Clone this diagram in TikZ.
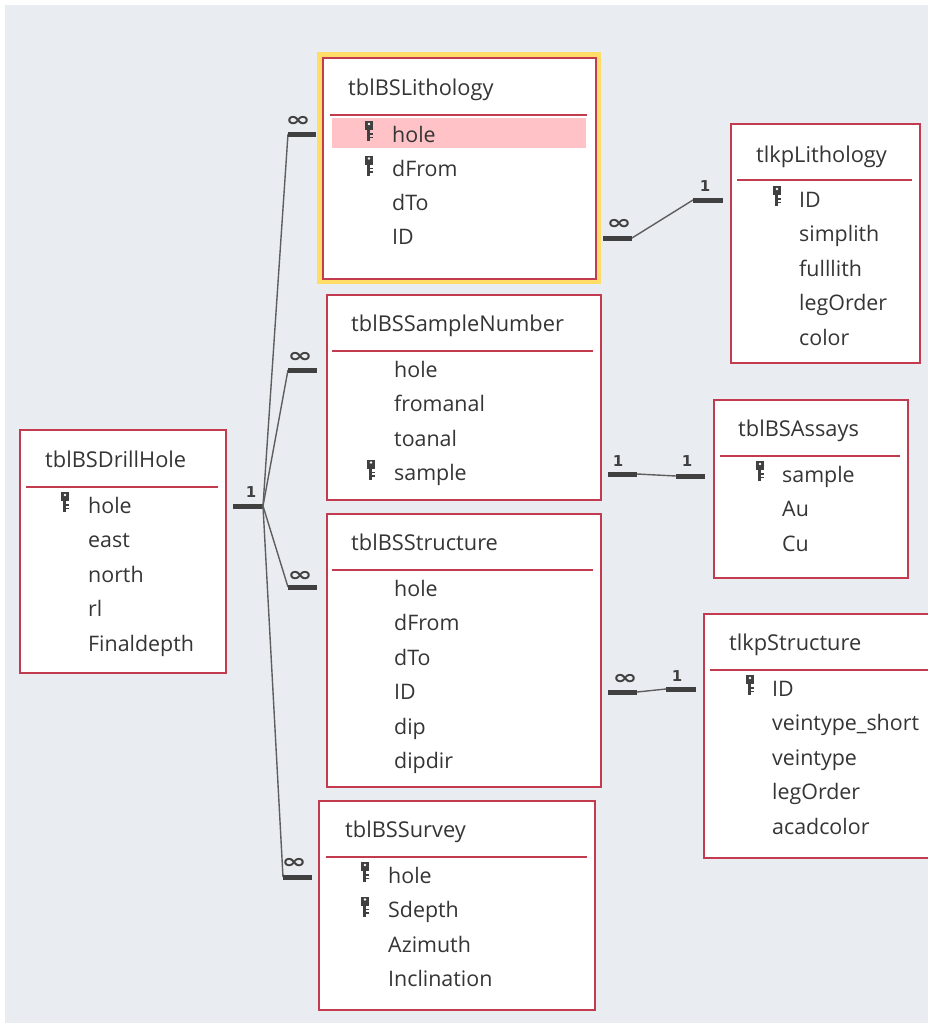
\documentclass[tikz,border=0pt]{standalone}
\usepackage{fontspec}
\newfontfamily\uifont{Open Sans}
\newfontfamily\symfont{DejaVu Sans}
\usetikzlibrary{calc}
\definecolor{bg}{HTML}{E9EDF1}
\definecolor{tred}{HTML}{C23B4E}
\definecolor{halo}{HTML}{FFDD66}
\definecolor{pinkrow}{HTML}{FFC2C6}
\definecolor{txt}{HTML}{353535}
\definecolor{barc}{HTML}{404040}
\definecolor{linkc}{HTML}{5E5E5E}
\tikzset{
  tbl/.style={draw=tred, line width=2pt, fill=white, rectangle, anchor=north west, inner sep=0pt},
  ttl/.style={anchor=base west, inner sep=0pt, font=\uifont\fontsize{21.8}{24}\selectfont, text=txt},
  fld/.style={anchor=base west, inner sep=0pt, font=\uifont\fontsize{21.4}{24}\selectfont, text=txt},
  divider/.style={draw=tred, line width=1.6pt},
  relbar/.style={draw=barc, line width=5pt},
  rellink/.style={draw=linkc, line width=1.4pt},
  onelbl/.style={font=\symfont\bfseries\fontsize{15}{16}\selectfont, text=barc, inner sep=0pt},
  manylbl/.style={font=\symfont\bfseries\fontsize{20}{22}\selectfont, text=barc, inner sep=0pt},
  keyicon/.pic={
    \fill[barc] (0,0) rectangle (8,9);
    \fill[white] (4,3) circle (1.3);
    \fill[barc] (2,9) rectangle (5,20);
    \fill[barc] (5,12) rectangle (7.5,13.5);
    \fill[barc] (5,15.5) rectangle (7.5,17);
  }
}
\begin{document}
\begin{tikzpicture}[x=1pt,y=-1pt]
\clip (0,0) rectangle (928,1023);
\fill[white] (0,0) rectangle (928,1023);
\fill[bg] (5,5) rectangle (928,1023);

% ---------- tblBSLithology (selected) ----------
\draw[halo, line width=5pt] (319.5,54.5) rectangle (598,281);
\node[tbl, minimum width=273pt, minimum height=221pt] (lith) at (322,57) {};
\fill[pinkrow] (332,118) rectangle (586,148);
\node[ttl] (lith-t) at (348,95) {tblBSLithology};
\draw[divider] (330,115) -- (587,115);
\foreach \f [count=\i] in {hole,dFrom,dTo,ID}
  \node[fld] (lith-\i) at (392,{142+34.3*(\i-1)}) {\f};
\pic at (365,121) {keyicon};
\pic at (365,155.5) {keyicon};

% ---------- tblBSSampleNumber ----------
\node[tbl, minimum width=274pt, minimum height=205pt] (samp) at (326,294) {};
\node[ttl] (samp-t) at (351,331) {tblBSSampleNumber};
\draw[divider] (332,351) -- (593,351);
\foreach \f [count=\i] in {hole,fromanal,toanal,sample}
  \node[fld] (samp-\i) at (394,{377+34.5*(\i-1)}) {\f};
\pic at (367,459.5) {keyicon};

% ---------- tblBSDrillHole ----------
\node[tbl, minimum width=206pt, minimum height=243pt] (drill) at (19,429) {};
\node[ttl] (drill-t) at (45,467) {tblBSDrillHole};
\draw[divider] (26,487) -- (218,487);
\foreach \f [count=\i] in {hole,east,north,rl,Finaldepth}
  \node[fld] (drill-\i) at (88,{513+34.5*(\i-1)}) {\f};
\pic at (61,492) {keyicon};

% ---------- tblBSStructure ----------
\node[tbl, minimum width=274pt, minimum height=273pt] (struct) at (326,513) {};
\node[ttl] (struct-t) at (351,550) {tblBSStructure};
\draw[divider] (332,570) -- (593,570);
\foreach \f [count=\i] in {hole,dFrom,dTo,ID,dip,dipdir}
  \node[fld] (struct-\i) at (394,{596+34.5*(\i-1)}) {\f};

% ---------- tblBSSurvey ----------
\node[tbl, minimum width=276pt, minimum height=209pt] (surv) at (318,800) {};
\node[ttl] (surv-t) at (345,837) {tblBSSurvey};
\draw[divider] (326,857) -- (587,857);
\foreach \f [count=\i] in {hole,Sdepth,Azimuth,Inclination}
  \node[fld] (surv-\i) at (388,{883+34.5*(\i-1)}) {\f};
\pic at (361,862) {keyicon};
\pic at (361,896.5) {keyicon};

% ---------- tlkpLithology ----------
\node[tbl, minimum width=189pt, minimum height=239pt] (tlith) at (730,123) {};
\node[ttl] (tlith-t) at (756,162) {tlkpLithology};
\draw[divider] (737,180) -- (912,180);
\foreach \f [count=\i] in {ID,simplith,fulllith,legOrder,color}
  \node[fld] (tlith-\i) at (799,{207+34.5*(\i-1)}) {\f};
\pic at (773,186) {keyicon};

% ---------- tblBSAssays ----------
\node[tbl, minimum width=194pt, minimum height=178pt] (assay) at (713,399) {};
\node[ttl] (assay-t) at (738,436) {tblBSAssays};
\draw[divider] (720,456) -- (900,456);
\foreach \f [count=\i] in {sample,Au,Cu}
  \node[fld] (assay-\i) at (782,{482+34.5*(\i-1)}) {\f};
\pic at (756,461) {keyicon};

% ---------- tlkpStructure ----------
\node[tbl, minimum width=240pt, minimum height=244pt] (tstruct) at (703,613) {};
\node[ttl] (tstruct-t) at (729,650) {tlkpStructure};
\draw[divider] (710,670) -- (940,670);
\foreach \f [count=\i] in {ID,veintype\_short,veintype,legOrder,acadcolor}
  \node[fld] (tstruct-\i) at (772,{696+34.5*(\i-1)}) {\f};
\pic at (746,675) {keyicon};

% ---------- relationships ----------
\coordinate (dhA) at (233,506);
\coordinate (dhB) at (263,506);
\draw[relbar] (dhA) -- (dhB);
\node[onelbl] (dh1) at (251,492) {1};

\coordinate (liA) at (288,134);
\coordinate (liB) at (316,134);
\coordinate (saA) at (288,370);
\coordinate (saB) at (317,370);
\coordinate (stA) at (288,587);
\coordinate (stB) at (317,587);
\coordinate (suA) at (283,877);
\coordinate (suB) at (312,877);
\draw[rellink] (dhB) -- (liA);
\draw[rellink] (dhB) -- (saA);
\draw[rellink] (dhB) -- (stA);
\draw[rellink] (dhB) -- (suA);
\draw[relbar] (liA) -- (liB);
\draw[relbar] (saA) -- (saB);
\draw[relbar] (stA) -- (stB);
\draw[relbar] (suA) -- (suB);
\node[manylbl] (li8) at (298,121) {\scalebox{1.5}[1]{∞}};
\node[manylbl] (sa8) at (300,357) {\scalebox{1.5}[1]{∞}};
\node[manylbl] (st8) at (300,576) {\scalebox{1.5}[1]{∞}};
\node[manylbl] (su8) at (294,863) {\scalebox{1.5}[1]{∞}};

% lith -> tlkpLithology
\coordinate (ltA) at (603,238);
\coordinate (ltB) at (632,238);
\coordinate (ltC) at (693,200);
\coordinate (ltD) at (723,200);
\draw[relbar] (ltA) -- (ltB);
\draw[rellink] (ltB) -- (ltC);
\draw[relbar] (ltC) -- (ltD);
\node[manylbl] (lt8) at (619,224) {\scalebox{1.5}[1]{∞}};
\node[onelbl] (lt1) at (705,186) {1};

% sample -> assays
\coordinate (saxA) at (608,474);
\coordinate (saxB) at (637,474);
\coordinate (saxC) at (676,476);
\coordinate (saxD) at (705,476);
\draw[relbar] (saxA) -- (saxB);
\draw[rellink] (saxB) -- (saxC);
\draw[relbar] (saxC) -- (saxD);
\node[onelbl] (sax1) at (618,461) {1};
\node[onelbl] (sax2) at (687,461) {1};

% structure -> tlkpStructure
\coordinate (stxA) at (608,692);
\coordinate (stxB) at (637,692);
\coordinate (stxC) at (666,689);
\coordinate (stxD) at (696,689);
\draw[relbar] (stxA) -- (stxB);
\draw[rellink] (stxB) -- (stxC);
\draw[relbar] (stxC) -- (stxD);
\node[manylbl] (stx8) at (625,679) {\scalebox{1.5}[1]{∞}};
\node[onelbl] (stx1) at (677,676) {1};
\end{tikzpicture}
\end{document}
